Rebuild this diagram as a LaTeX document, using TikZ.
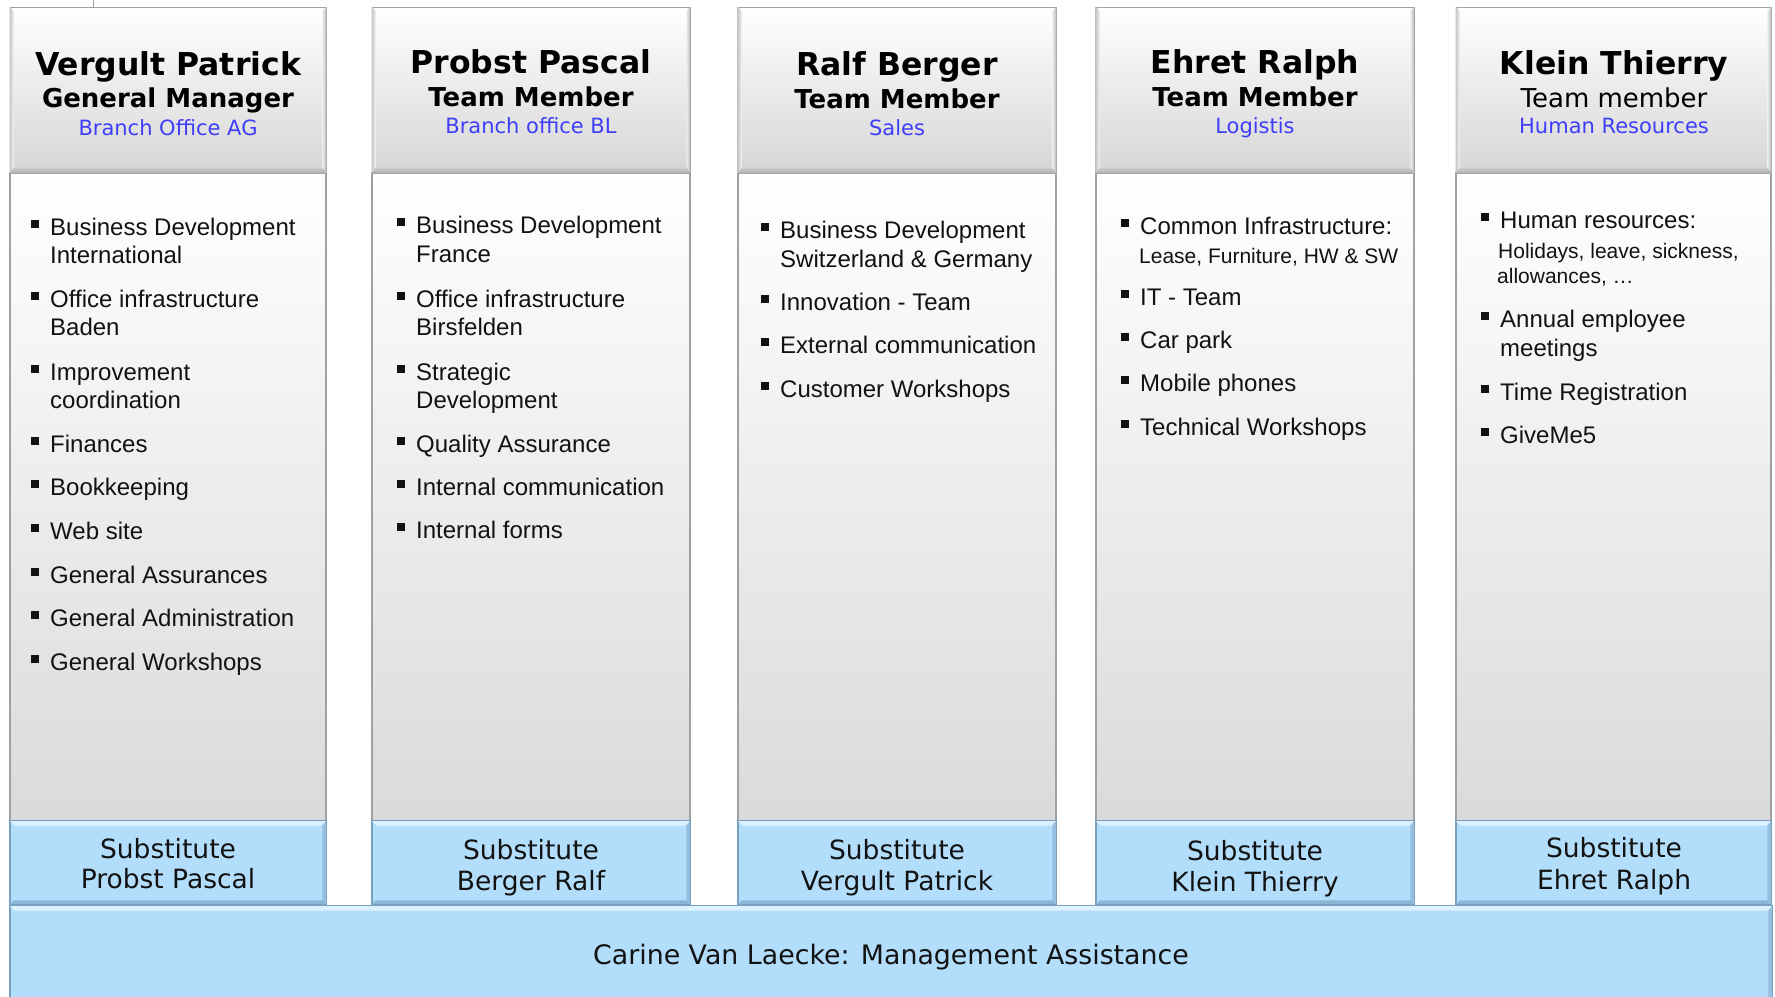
\documentclass[tikz,border=0pt]{standalone}
\usepackage{fontspec}
\setmainfont{Liberation Sans}
\newfontfamily\verd{DejaVu Sans}
\definecolor{deptblue}{RGB}{62,62,250}
\definecolor{subblue}{RGB}{179,222,251}
\definecolor{sublight}{RGB}{220,242,255}
\definecolor{subdark}{RGB}{120,160,192}
\definecolor{subbot}{RGB}{140,180,212}
\definecolor{subright}{RGB}{150,190,222}
\definecolor{hdrgray}{RGB}{214,214,214}
\definecolor{bodygray}{RGB}{218,218,218}
\definecolor{edgegray}{RGB}{160,160,160}
\definecolor{txt}{RGB}{18,18,18}
\newcommand\bul{\makebox[19pt][l]{\rule[7.5pt]{8pt}{8pt}}}
\newcommand\bevel[1]{%
  \fill[sublight] (#1.north west) -- (#1.north east) -- ([shift={(-5,5)}]#1.north east) -- ([shift={(5,5)}]#1.north west) -- cycle;
  \fill[subbot] (#1.south west) -- (#1.south east) -- ([shift={(-4,-4)}]#1.south east) -- ([shift={(4,-4)}]#1.south west) -- cycle;
  \fill[subright] (#1.north east) -- (#1.south east) -- ([shift={(-4,-4)}]#1.south east) -- ([shift={(-4,5)}]#1.north east) -- cycle;
  \draw[subdark, line width=0.8pt] (#1.north west) rectangle (#1.south east);
}
\newcommand\panel[3]{%
  \pgfmathsetmacro\pcx{(#2+#3)/2}%
  \pgfmathsetmacro\pw{#3-#2}%
  \node[bodybox, minimum width=\pw pt, minimum height=648pt] (b#1) at (\pcx,497) {};
  \node[hdrbox, minimum width=\pw pt, minimum height=166pt] (h#1) at (\pcx,90) {};
  \shade[left color=gray!45, right color=white!90!gray] (h#1.north west) -- ([shift={(4,4)}]h#1.north west) -- ([shift={(4,-4)}]h#1.south west) -- (h#1.south west) -- cycle;
  \shade[left color=white!85!gray, right color=gray!55] (h#1.north east) -- ([shift={(-4,4)}]h#1.north east) -- ([shift={(-4,-4)}]h#1.south east) -- (h#1.south east) -- cycle;
  \shade[top color=hdrgray, bottom color=gray!65] ([shift={(5,-7)}]h#1.south west) -- ([shift={(-5,-7)}]h#1.south east) -- (h#1.south east) -- (h#1.south west) -- cycle;
  \node[subbox, minimum width=\pw pt, minimum height=83pt] (s#1) at (\pcx,862.5) {};
  \bevel{s#1}
}
\begin{document}
\begin{tikzpicture}[x=1pt,y=-1pt,
  hdrbox/.style={draw=edgegray, line width=0.8pt, top color=white, middle color=white!80!hdrgray, bottom color=hdrgray, inner sep=0},
  bodybox/.style={draw=edgegray, line width=1.5pt, top color=white, bottom color=bodygray, inner sep=0},
  subbox/.style={draw=subdark, line width=0.8pt, fill=subblue, inner sep=0},
  nm/.style={anchor=base, inner sep=0, text=black, font=\verd\bfseries\fontsize{31.5}{34}\selectfont},
  rl/.style={anchor=base, inner sep=0, text=black, font=\verd\bfseries\fontsize{26}{30}\selectfont},
  rlr/.style={anchor=base, inner sep=0, text=black, font=\verd\fontsize{26}{30}\selectfont},
  dp/.style={anchor=base, inner sep=0, text=deptblue, font=\verd\fontsize{21}{25}\selectfont},
  sb/.style={anchor=base, inner sep=0, text=txt, font=\verd\fontsize{26.5}{30}\selectfont},
  bt/.style={anchor=base, inner sep=0, text=txt, font=\verd\fontsize{26.8}{30}\selectfont},
  item/.style={anchor=base west, inner sep=0, text=txt, font=\fontsize{24}{28}\selectfont},
  sitem/.style={anchor=base west, inner sep=0, text=txt, font=\fontsize{21}{25}\selectfont}]
\clip (0,0) rectangle (1775,996);
\fill[white] (0,0) rectangle (1775,996);
\coordinate (tick) at (93,0);
\draw[gray!70, line width=0.8pt] (tick) -- ++(0,7);

\panel{1}{10}{326}
\panel{2}{372}{690}
\panel{3}{738}{1056}
\panel{4}{1096}{1414}
\panel{5}{1456}{1771}

\node[subbox, minimum width=1762pt, minimum height=100pt] (bar) at (891,956) {};
\bevel{bar}
\node[bt] (bart) at (891,964) {Carine Van Laecke: Management Assistance};

% headers
\node[nm] (n1) at (168,75) {Vergult Patrick};
\node[rl] (r1) at (168,107) {General Manager};
\node[dp] (d1) at (168,135) {Branch Office AG};
\node[nm] (n2) at (531,73) {Probst Pascal};
\node[rl] (r2) at (531,106) {Team Member};
\node[dp] (d2) at (531,133) {Branch office BL};
\node[nm] (n3) at (897,75) {Ralf Berger};
\node[rl] (r3) at (897,108) {Team Member};
\node[dp] (d3) at (897,135) {Sales};
\node[nm] (n4) at (1255,73) {Ehret Ralph};
\node[rl] (r4) at (1255,106) {Team Member};
\node[dp] (d4) at (1255,133) {Logistis};
\node[nm] (n5) at (1614,74) {Klein Thierry};
\node[rlr] (r5) at (1614,107) {Team member};
\node[dp] (d5) at (1614,133) {Human Resources};

% substitutes
\node[sb] (s1a) at (168,858) {Substitute};
\node[sb] (s1b) at (168,888) {Probst Pascal};
\node[sb] (s2a) at (531,859) {Substitute};
\node[sb] (s2b) at (531,890) {Berger Ralf};
\node[sb] (s3a) at (897,859) {Substitute};
\node[sb] (s3b) at (897,890) {Vergult Patrick};
\node[sb] (s4a) at (1255,860) {Substitute};
\node[sb] (s4b) at (1255,891) {Klein Thierry};
\node[sb] (s5a) at (1614,857) {Substitute};
\node[sb] (s5b) at (1614,889) {Ehret Ralph};

% column 1
\node[item] (a1) at (31,235) {\bul Business Development};
\node[item] (a1b) at (50,263) {International};
\node[item] (a2) at (31,307) {\bul Office infrastructure};
\node[item] (a2b) at (50,335) {Baden};
\node[item] (a3) at (31,380) {\bul Improvement};
\node[item] (a3b) at (50,408) {coordination};
\node[item] (a4) at (31,452) {\bul Finances};
\node[item] (a5) at (31,495) {\bul Bookkeeping};
\node[item] (a6) at (31,539) {\bul Web site};
\node[item] (a7) at (31,583) {\bul General Assurances};
\node[item] (a8) at (31,626) {\bul General Administration};
\node[item] (a9) at (31,670) {\bul General Workshops};

% column 2
\node[item] (p1) at (397,233) {\bul Business Development};
\node[item] (p1b) at (416,262) {France};
\node[item] (p2) at (397,307) {\bul Office infrastructure};
\node[item] (p2b) at (416,335) {Birsfelden};
\node[item] (p3) at (397,380) {\bul Strategic};
\node[item] (p3b) at (416,408) {Development};
\node[item] (p4) at (397,452) {\bul Quality Assurance};
\node[item] (p5) at (397,495) {\bul Internal communication};
\node[item] (p6) at (397,538) {\bul Internal forms};

% column 3
\node[item] (q1) at (761,238) {\bul Business Development};
\node[item] (q1b) at (780,267) {Switzerland \& Germany};
\node[item] (q2) at (761,310) {\bul Innovation - Team};
\node[item] (q3) at (761,353) {\bul External communication};
\node[item] (q4) at (761,397) {\bul Customer Workshops};

% column 4
\node[item] (e1) at (1121,234) {\bul Common Infrastructure:};
\node[sitem] (e1b) at (1139,263) {Lease, Furniture, HW \& SW};
\node[item] (e2) at (1121,305) {\bul IT - Team};
\node[item] (e3) at (1121,348) {\bul Car park};
\node[item] (e4) at (1121,391) {\bul Mobile phones};
\node[item] (e5) at (1121,435) {\bul Technical Workshops};

% column 5
\node[item] (k1) at (1481,228) {\bul Human resources:};
\node[sitem] (k1b) at (1498,258) {Holidays, leave, sickness,};
\node[sitem] (k1c) at (1497,283) {allowances, …};
\node[item] (k2) at (1481,327) {\bul Annual employee};
\node[item] (k2b) at (1500,356) {meetings};
\node[item] (k3) at (1481,400) {\bul Time Registration};
\node[item] (k4) at (1481,443) {\bul GiveMe5};
\end{tikzpicture}
\end{document}
